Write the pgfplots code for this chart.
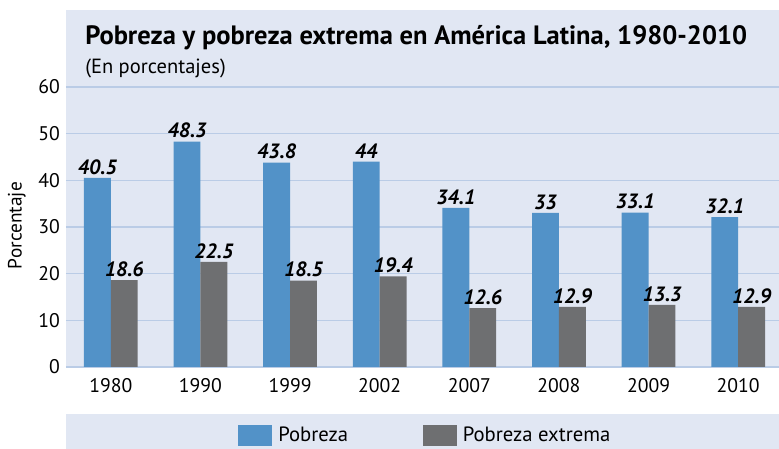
\documentclass[border=0pt]{standalone}
\usepackage{pgfplots}
\pgfplotsset{compat=1.18}
\usepackage{fontspec}
\setmainfont{PT Sans}
\definecolor{pblue}{HTML}{5292C8}
\definecolor{pgray}{HTML}{6E6F71}
\definecolor{pbg}{HTML}{E1E7F3}
\definecolor{pgrid}{HTML}{BACCE6}
\begin{document}
\begin{tikzpicture}[x=0.75pt,y=0.75pt]
\fill[pbg] (66,82) rectangle (779,439);
\fill[pbg] (66,0) rectangle (779,35);
\node[anchor=base west,inner sep=0pt,font=\fontsize{19.9}{23}\selectfont\bfseries] at (85,404) {Pobreza y pobreza extrema en América Latina, 1980-2010};
\node[anchor=base west,inner sep=0pt,font=\fontsize{15.4}{18}\selectfont] at (85,375) {(En porcentajes)};
\begin{axis}[
  at={(49.5pt,61.5pt)}, anchor=south west,
  scale only axis, width=537.75pt, height=210pt,
  xmin=-0.5, xmax=7.5, ymin=0, ymax=60,
  ybar=0pt, bar width=0.3,
  axis line style={draw=none},
  ymajorgrids, grid style={pgrid, line width=1.2pt},
  ytick={0,10,...,60},
  xtick={0,...,7},
  xticklabels={1980,1990,1999,2002,2007,2008,2009,2010},
  major tick length=0pt,
  /pgf/number format/assume math mode=true,
  tick label style={font=\fontsize{14.8}{17}\selectfont, text=black},
  yticklabel style={xshift=-1pt},
  xticklabel style={yshift=-5pt},
  ylabel={Porcentaje},
  ylabel style={font=\fontsize{14.5}{17}\selectfont, at={(axis description cs:-0.0685,0.505)}, anchor=center},
  nodes near coords,
  every node near coord/.append style={font=\fontsize{15.5}{18}\selectfont\bfseries\itshape, text=black, yshift=-1pt},
  legend columns=2,
  legend style={draw=none, fill=none, at={(0.2399,-0.2446)}, anchor=west,
    /tikz/every even column/.append style={column sep=54pt},
    /tikz/every odd column/.append style={column sep=2.5pt},
    font=\fontsize{15.5}{18}\selectfont, inner sep=0pt},
  legend image code/.code={\fill[#1,draw=none] (0pt,-7.875pt) rectangle (25.5pt,7.875pt);},
]
\addplot[fill=pblue, draw=none] coordinates {(0,40.5) (1,48.3) (2,43.8) (3,44) (4,34.1) (5,33) (6,33.1) (7,32.1)};
\addplot[fill=pgray, draw=none] coordinates {(0,18.6) (1,22.5) (2,18.5) (3,19.4) (4,12.6) (5,12.9) (6,13.3) (7,12.9)};
\legend{Pobreza, Pobreza extrema}
\end{axis}
\pgfresetboundingbox
\path[use as bounding box] (0,0) rectangle (779,449);
\end{tikzpicture}
\end{document}
